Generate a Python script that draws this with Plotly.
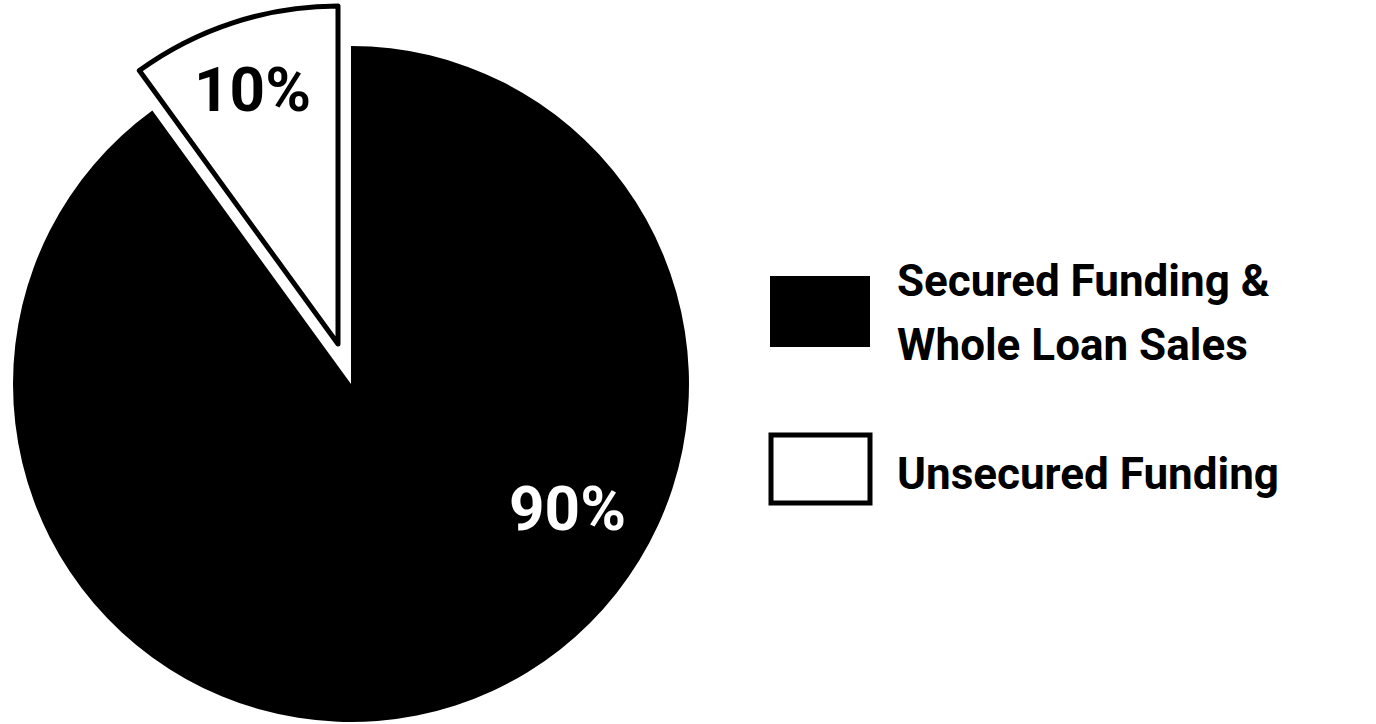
import plotly.graph_objects as go

# ---- data ----
categories = ["Secured Funding &<br>Whole Loan Sales", "Unsecured Funding"]
legend_lines = [["Secured Funding &", "Whole Loan Sales"], ["Unsecured Funding"]]
values = [90, 10]
colors = ["#000000", "#ffffff"]

W, H = 1376, 724
FONT = "Liberation Sans Narrow, Arial Narrow, Roboto, sans-serif"

def px(x0, x1):
    return [x0 / W, x1 / W]

def py(top, bottom):
    return [(H - bottom) / H, (H - top) / H]

transparent = "rgba(0,0,0,0)"
total = sum(values)
pct = [f"{round(v / total * 100)}%" for v in values]

fig = go.Figure()

# main (unpulled) pie: the secured slice
fig.add_trace(go.Pie(
    labels=categories, values=values, sort=False, direction="clockwise", rotation=0,
    marker=dict(colors=[colors[0], transparent], line=dict(width=0)),
    textinfo="none", hoverinfo="label+percent", showlegend=False,
    domain=dict(x=px(13, 689), y=py(46, 722)),
))
# the exploded slice (unsecured), drawn offset along its bisector
fig.add_trace(go.Pie(
    labels=categories, values=values, sort=False, direction="clockwise", rotation=0,
    marker=dict(colors=[transparent, colors[1]], line=dict(color=["rgba(0,0,0,0)", "#000000"], width=[0, 5])),
    textinfo="none", hoverinfo="label+percent", showlegend=False,
    domain=dict(x=px(0, 676), y=py(6, 682)),
))

annotations = []
# percent labels
label_pos = [(567, 508, "#ffffff"), (252, 89, "#000000")]
for (x, y, c), t in zip(label_pos, pct):
    annotations.append(dict(x=x / W, y=1 - y / H, xref="paper", yref="paper", text=t,
                            showarrow=False, xanchor="center", yanchor="middle",
                            font=dict(family=FONT, size=62, color=c, weight=700)))

# legend
shapes = [
    dict(type="rect", xref="paper", yref="paper", x0=770 / W, x1=870 / W, y0=1 - 347 / H, y1=1 - 276 / H,
         fillcolor="#000000", line=dict(width=0)),
    dict(type="rect", xref="paper", yref="paper", x0=771 / W, x1=870 / W, y0=1 - 503 / H, y1=1 - 435 / H,
         fillcolor="#ffffff", line=dict(color="#000000", width=5)),
]
line_mid = [[281, 345], [474]]
for lines, mids in zip(legend_lines, line_mid):
    for t, m in zip(lines, mids):
        annotations.append(dict(x=895 / W, y=1 - m / H, xref="paper", yref="paper", text=t,
                                showarrow=False, xanchor="left", yanchor="middle",
                                font=dict(family=FONT, size=44, color="#000000", weight=700)))

fig.update_layout(
    width=W, height=H, margin=dict(l=0, r=0, t=0, b=0),
    paper_bgcolor="#ffffff", plot_bgcolor="#ffffff",
    showlegend=False, shapes=shapes, annotations=annotations,
)

fig.write_html("out.html")
